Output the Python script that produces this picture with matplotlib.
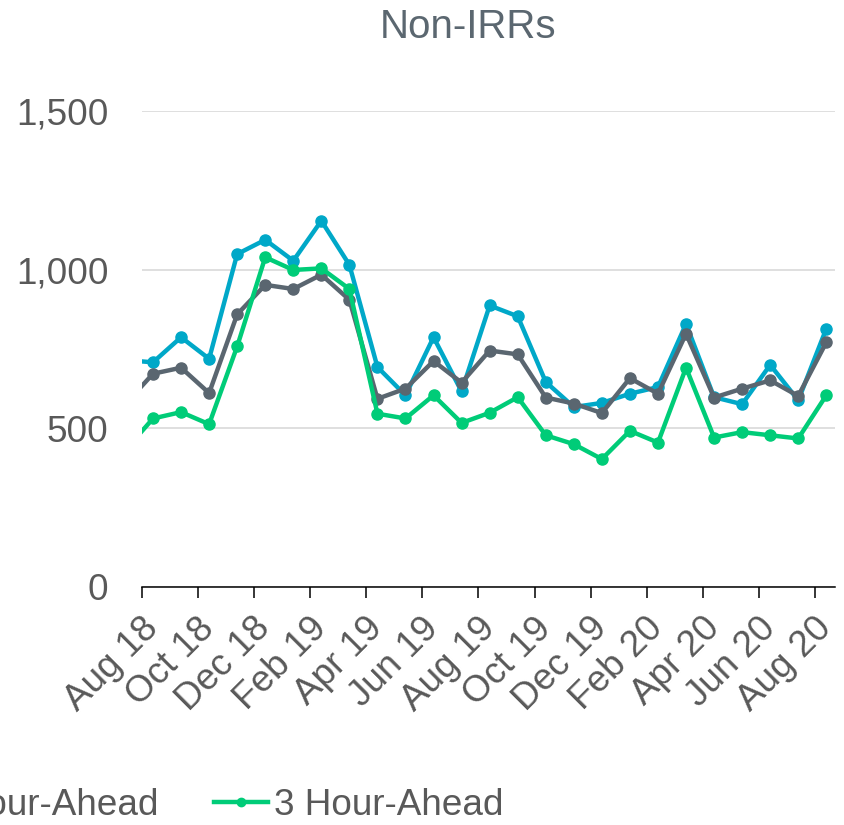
import matplotlib
matplotlib.use("Agg")

import matplotlib.pyplot as plt
from matplotlib.lines import Line2D

# ── Data (first value is Jul 18, clipped by the axis like the original) ──
months = ["Jul 18", "Aug 18", "Sep 18", "Oct 18", "Nov 18", "Dec 18", "Jan 19",
          "Feb 19", "Mar 19", "Apr 19", "May 19", "Jun 19", "Jul 19", "Aug 19",
          "Sep 19", "Oct 19", "Nov 19", "Dec 19", "Jan 20", "Feb 20", "Mar 20",
          "Apr 20", "May 20", "Jun 20", "Jul 20", "Aug 20"]
hour1 = [715, 708, 787, 719, 1049, 1094, 1028, 1154, 1015, 693, 604, 787, 616,
         887, 853, 646, 567, 580, 609, 630, 829, 598, 576, 700, 588, 814]
hour2 = [575, 672, 691, 611, 859, 952, 939, 984, 905, 593, 625, 712, 644,
         745, 733, 597, 578, 548, 658, 609, 798, 597, 625, 651, 602, 771]
hour3 = [430, 531, 551, 513, 758, 1039, 999, 1004, 939, 546, 531, 604, 517,
         549, 598, 478, 450, 403, 492, 455, 691, 471, 488, 478, 468, 604]
series_names = ["1 Hour-Ahead", "2 Hour-Ahead", "3 Hour-Ahead"]
tick_labels = months[1::2]
y_ticks = [0, 500, 1000, 1500]

COLORS = ["#00A8C8", "#5A6670", "#00CC78"]
TEXT = "#595959"


def main() -> None:
    plt.rcParams["font.family"] = ["Liberation Sans", "DejaVu Sans"]
    fig = plt.figure(figsize=(8.44, 8.25), dpi=100)
    ax = fig.add_axes([0.168, 0.2885, 0.821, 0.577])

    # month index: Aug 18 = 0, points sit a bit right of the month tick
    xs = [i - 1 + 0.4 for i in range(len(months))]
    for vals, name, col in zip([hour1, hour2, hour3], series_names, COLORS):
        ax.plot(xs, vals, color=col, lw=3.2, marker="o", ms=8,
                solid_joinstyle="round", label=name)

    ax.set_xlim(0, 24.7)
    ax.set_ylim(0, 1500)

    # ── axes styling ─────────────────────────────────────────────────
    for side in ["top", "right", "left"]:
        ax.spines[side].set_visible(False)
    ax.spines["bottom"].set_color("black")
    ax.spines["bottom"].set_linewidth(1.1)

    ax.set_yticks(y_ticks)
    ax.set_yticklabels([f"{v:,}" for v in y_ticks])
    ax.tick_params(axis="y", length=0, pad=24, labelsize=26.6, labelcolor=TEXT)
    ax.yaxis.grid(True, color="#D9D9D9", lw=1.2)
    ax.set_axisbelow(True)

    # major ticks = marks only, minor ticks = labels under each point
    ax.set_xticks(range(0, 25, 2))
    ax.set_xticklabels([])
    ax.tick_params(axis="x", which="major", direction="out", length=8,
                   width=1.1, color="black")
    ax.set_xticks([x + 0.4 for x in range(0, 25, 2)], minor=True)
    ax.set_xticklabels(tick_labels, minor=True)
    ax.tick_params(axis="x", which="minor", length=0, pad=26,
                   labelsize=26.6, labelcolor=TEXT)
    for lab in ax.get_xticklabels(minor=True):
        lab.set_rotation(45)
        lab.set_ha("right")
        lab.set_va("center")
        lab.set_rotation_mode("anchor")

    fig.text(0.555, 0.967, "Non-IRRs", ha="center", va="center",
             fontsize=29, color="#5B6770")

    # legend sits partly outside the figure, as in the cropped original
    leg_handles = [Line2D([], [], color=c, lw=3.2, marker="o", ms=6)
                   for c in COLORS]
    fig.legend(leg_handles, series_names, ncol=3, loc="center right",
               bbox_to_anchor=(0.596, 0.024), frameon=False, fontsize=26.6,
               labelcolor=TEXT, borderpad=0, borderaxespad=0,
               handlelength=1.46, handletextpad=0.14, columnspacing=1.51)

    fig.savefig("out.png", dpi=100)
    plt.close(fig)


if __name__ == "__main__":
    main()
